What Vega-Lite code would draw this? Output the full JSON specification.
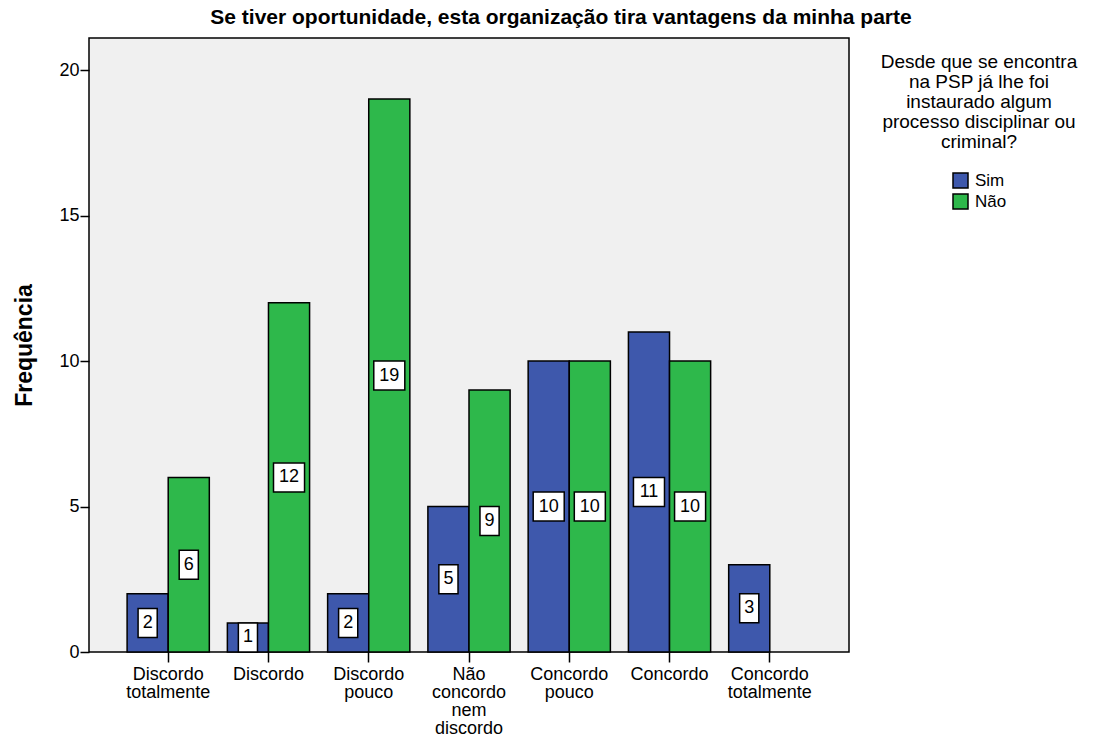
{
  "$schema": "https://vega.github.io/schema/vega-lite/v6.json",
  "autosize": {"type": "none"},
  "padding": {"left": 89, "top": 38, "right": 261, "bottom": 84},
  "width": 760,
  "height": 614,
  "title": {
    "text": "Se tiver oportunidade, esta organização tira vantagens da minha parte",
    "font": "Liberation Sans",
    "fontSize": 21,
    "fontWeight": "bold",
    "color": "black",
    "anchor": "middle",
    "frame": "group",
    "dx": 92,
    "offset": 10
  },
  "data": {
    "values": [
      {"categoria": "Discordo totalmente", "processo": "Sim", "n": 2},
      {"categoria": "Discordo totalmente", "processo": "Não", "n": 6},
      {"categoria": "Discordo", "processo": "Sim", "n": 1},
      {"categoria": "Discordo", "processo": "Não", "n": 12},
      {"categoria": "Discordo pouco", "processo": "Sim", "n": 2},
      {"categoria": "Discordo pouco", "processo": "Não", "n": 19},
      {"categoria": "Não concordo nem discordo", "processo": "Sim", "n": 5},
      {"categoria": "Não concordo nem discordo", "processo": "Não", "n": 9},
      {"categoria": "Concordo pouco", "processo": "Sim", "n": 10},
      {"categoria": "Concordo pouco", "processo": "Não", "n": 10},
      {"categoria": "Concordo", "processo": "Sim", "n": 11},
      {"categoria": "Concordo", "processo": "Não", "n": 10},
      {"categoria": "Concordo totalmente", "processo": "Sim", "n": 3}
    ]
  },
  "encoding": {
    "x": {
      "field": "categoria",
      "type": "nominal",
      "sort": ["Discordo totalmente", "Discordo", "Discordo pouco", "Não concordo nem discordo", "Concordo pouco", "Concordo", "Concordo totalmente"],
      "scale": {"paddingInner": 0.18, "paddingOuter": 0.38},
      "axis": {
        "title": null,
        "labelAngle": 0,
        "labelExpr": "split(datum.label, ' ')",
        "labelFont": "Liberation Sans",
        "labelFontSize": 18,
        "labelColor": "black",
        "labelLineHeight": 18,
        "labelPadding": 3,
        "domain": false,
        "ticks": true,
        "tickColor": "black",
        "tickWidth": 1.5,
        "tickSize": 10,
        "grid": false
      }
    },
    "xOffset": {
      "field": "processo",
      "type": "nominal",
      "sort": ["Sim", "Não"],
      "scale": {"paddingInner": 0, "paddingOuter": 0}
    }
  },
  "layer": [
    {
      "mark": {"type": "bar", "stroke": "black", "strokeWidth": 1.5, "strokeOpacity": 1},
      "encoding": {
        "y": {
          "field": "n",
          "type": "quantitative",
          "scale": {"domain": [0, 21.1], "nice": false},
          "axis": {
            "title": "Frequência",
            "titleFont": "Liberation Sans",
            "titleFontSize": 23,
            "titleFontWeight": "bold",
            "titleColor": "black",
            "titlePadding": 22,
            "values": [0, 5, 10, 15, 20],
            "labelFont": "Liberation Sans",
            "labelFontSize": 18,
            "labelColor": "black",
            "labelPadding": 1,
            "domain": false,
            "grid": false,
            "tickColor": "black",
            "tickWidth": 1.5,
            "tickSize": 9
          }
        },
        "color": {
          "field": "processo",
          "type": "nominal",
          "sort": ["Sim", "Não"],
          "scale": {"domain": ["Sim", "Não"], "range": ["#3e58ac", "#2eb84b"]},
          "legend": {
            "title": ["Desde que se encontra", "na PSP já lhe foi", "instaurado algum", "processo disciplinar ou", "criminal?"],
            "orient": "none",
            "legendX": 792,
            "legendY": 15,
            "titleFont": "Liberation Sans",
            "titleFontSize": 19,
            "titleFontWeight": "normal",
            "titleColor": "black",
            "titleAlign": "center",
            "titleAnchor": "middle",
            "titleLimit": 400,
            "titleLineHeight": 20,
            "titlePadding": 20,
            "symbolType": "square",
            "symbolSize": 225,
            "symbolStrokeColor": "black",
            "symbolStrokeWidth": 1.5,
            "symbolOpacity": 1,
            "symbolOffset": 0,
            "labelFont": "Liberation Sans",
            "labelFontSize": 17,
            "labelColor": "black",
            "labelOffset": 6,
            "rowPadding": 0
          }
        }
      }
    },
    {
      "mark": {"type": "point", "filled": true, "fill": "white", "stroke": "black", "strokeWidth": 1.5, "opacity": 1, "size": 841},
      "encoding": {
        "y": {"field": "n", "type": "quantitative", "scale": {"domain": [0, 42.2], "nice": false}, "axis": null},
        "shape": {
          "condition": {"test": "datum.n >= 10", "value": "M-1.07,-1H1.07V1H-1.07Z"},
          "value": "M-0.66,-1H0.66V1H-0.66Z"
        }
      }
    },
    {
      "mark": {"type": "text", "font": "Liberation Sans", "fontSize": 18, "color": "black", "baseline": "middle", "align": "center"},
      "encoding": {
        "y": {"field": "n", "type": "quantitative", "scale": {"domain": [0, 42.2], "nice": false}, "axis": null},
        "text": {"field": "n", "type": "quantitative"}
      }
    }
  ],
  "resolve": {"scale": {"y": "independent"}},
  "config": {
    "view": {"fill": "#f0f0f0", "stroke": "black", "strokeWidth": 1.5},
    "background": "white"
  }
}
